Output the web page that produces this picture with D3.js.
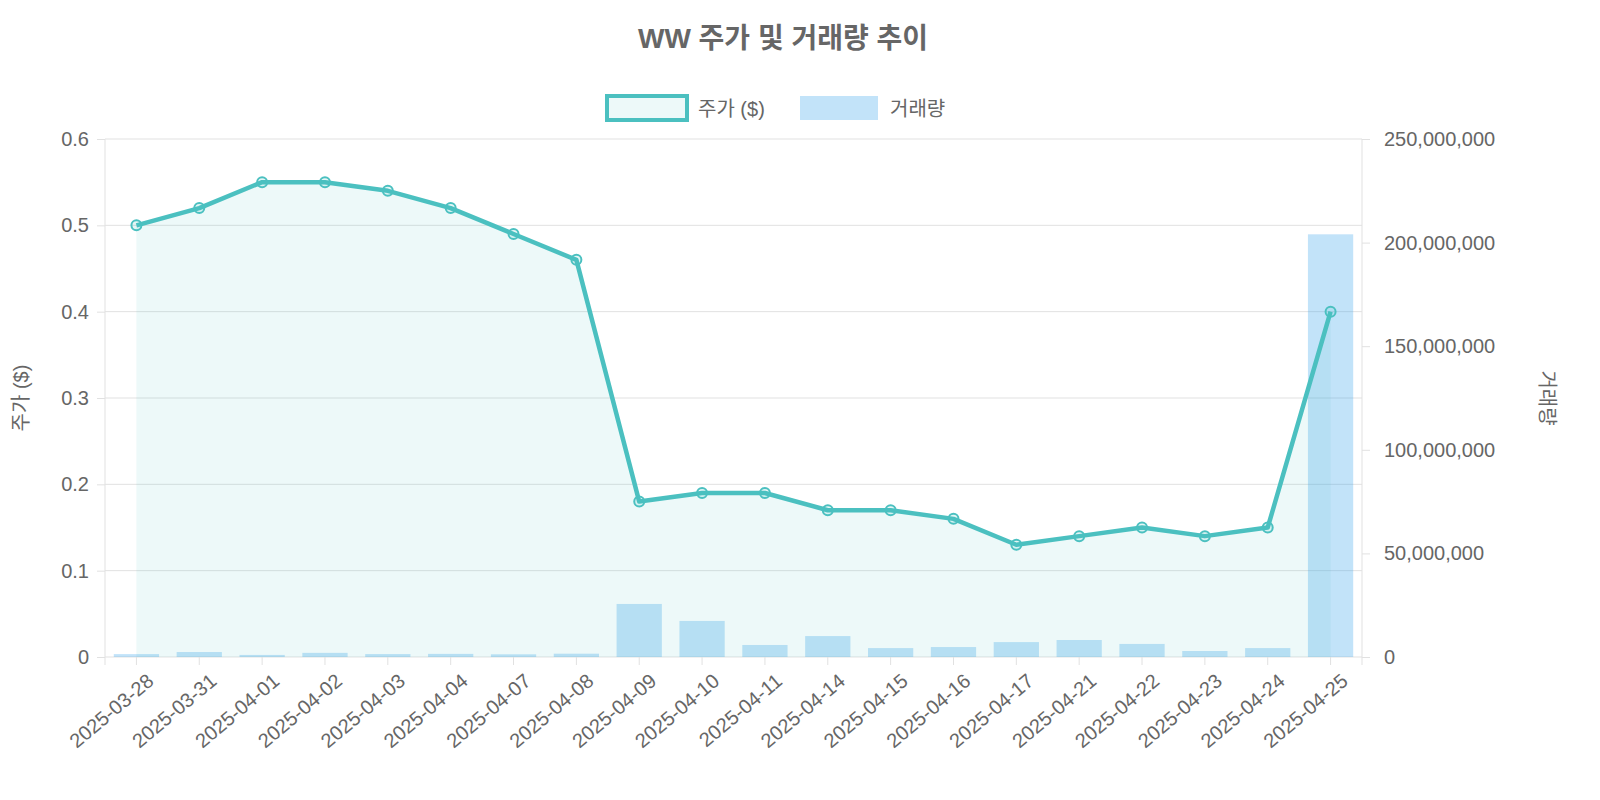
<!DOCTYPE html>
<html><head><meta charset="utf-8">
<script src="https://cdn.jsdelivr.net/npm/d3@7"></script>
<style>body{margin:0;background:#fff;font-family:"Liberation Sans","Noto Sans CJK KR",sans-serif}</style>
</head><body><svg id="c" width="1600" height="800"></svg>
<script>
const dates=["2025-03-28","2025-03-31","2025-04-01","2025-04-02","2025-04-03","2025-04-04","2025-04-07","2025-04-08","2025-04-09","2025-04-10","2025-04-11","2025-04-14","2025-04-15","2025-04-16","2025-04-17","2025-04-21","2025-04-22","2025-04-23","2025-04-24","2025-04-25"];
const prices=[0.50,0.52,0.55,0.55,0.54,0.52,0.49,0.46,0.18,0.19,0.19,0.17,0.17,0.16,0.13,0.14,0.15,0.14,0.15,0.40];
const volumes=[1.4e6,2.4e6,1.0e6,2.0e6,1.4e6,1.5e6,1.3e6,1.6e6,25.6e6,17.4e6,5.8e6,10.1e6,4.3e6,4.8e6,7.2e6,8.2e6,6.3e6,2.9e6,4.3e6,204e6];
const priceTicks=[0,0.1,0.2,0.3,0.4,0.5,0.6];
const volTicks=[0,50e6,100e6,150e6,200e6,250e6];

const svg=d3.select("#c");
const L=105,R=1362,T=139,B=657;
const x=d3.scaleBand().domain(dates).range([L,R]).paddingInner(0.28).paddingOuter(0.14);
const xc=d=>x(d)+x.bandwidth()/2;
const y=d3.scaleLinear().domain([0,0.6]).range([B,T]);
const yv=d3.scaleLinear().domain([0,250e6]).range([B,T]);
const grey="#666";
// grid
svg.append("g").selectAll("line").data(priceTicks).join("line")
 .attr("x1",L).attr("x2",R).attr("y1",d=>y(d)).attr("y2",d=>y(d)).attr("stroke","#e1e1e1");
svg.append("line").attr("x1",L).attr("x2",L).attr("y1",T).attr("y2",B+8).attr("stroke","#e1e1e1");
svg.append("line").attr("x1",R).attr("x2",R).attr("y1",T).attr("y2",B+8).attr("stroke","#e1e1e1");
// left axis
const ga=svg.append("g").attr("transform",`translate(${L},0)`).call(d3.axisLeft(y).tickValues(priceTicks).tickFormat(d=>d===0?"0":d3.format(".1f")(d)).tickSize(8).tickPadding(8));
const gb=svg.append("g").attr("transform",`translate(${R},0)`).call(d3.axisRight(yv).tickValues(volTicks).tickFormat(d3.format(",")).tickSize(8).tickPadding(14));
const gx=svg.append("g").attr("transform",`translate(0,${B})`).call(d3.axisBottom(x).tickSize(8));
[ga,gb,gx].forEach(g=>{g.select(".domain").remove();g.selectAll("line").attr("stroke","#e1e1e1");g.selectAll("text").attr("fill",grey).attr("font-size",20).attr("font-family","Liberation Sans");});
gx.selectAll("text").attr("text-anchor","end").attr("transform","translate(0,4) rotate(-40)").attr("dx","0").attr("dy","0.9em");
// bars
svg.append("g").selectAll("rect").data(dates).join("rect")
 .attr("x",d=>x(d)).attr("width",x.bandwidth()).attr("y",(d,i)=>yv(volumes[i])).attr("height",(d,i)=>B-yv(volumes[i]))
 .attr("fill","rgba(54,162,235,0.3)");
// area + line
svg.append("path").datum(prices).attr("d",d3.area().x((d,i)=>xc(dates[i])).y0(B).y1(d=>y(d))).attr("fill","rgba(75,192,192,0.1)");
svg.append("path").datum(prices).attr("d",d3.line().x((d,i)=>xc(dates[i])).y(d=>y(d))).attr("fill","none").attr("stroke","#4bc0c0").attr("stroke-width",4.5).attr("stroke-linejoin","round");
svg.append("g").selectAll("circle").data(prices).join("circle").attr("cx",(d,i)=>xc(dates[i])).attr("cy",d=>y(d)).attr("r",5).attr("fill","rgba(75,192,192,0.15)").attr("stroke","#4bc0c0").attr("stroke-width",2);
// title
svg.append("text").attr("x",783).attr("y",48).attr("text-anchor","middle").attr("font-size",28).attr("font-weight","bold").attr("fill",grey).text("WW 주가 및 거래량 추이");
// legend
svg.append("rect").attr("x",607).attr("y",96).attr("width",80).attr("height",24).attr("fill","rgba(75,192,192,0.1)").attr("stroke","#4bc0c0").attr("stroke-width",4);
svg.append("text").attr("x",698).attr("y",116).attr("font-size",20).attr("fill",grey).text("주가 ($)");
svg.append("rect").attr("x",800).attr("y",96).attr("width",78).attr("height",24).attr("fill","rgba(54,162,235,0.3)");
svg.append("text").attr("x",890).attr("y",116).attr("font-size",20).attr("fill",grey).text("거래량");
// axis titles
svg.append("text").attr("transform",`translate(28,${(T+B)/2}) rotate(-90)`).attr("text-anchor","middle").attr("font-size",20).attr("fill",grey).text("주가 ($)");
svg.append("text").attr("transform",`translate(1540,${(T+B)/2}) rotate(90)`).attr("text-anchor","middle").attr("font-size",20).attr("fill",grey).text("거래량");
</script></body></html>
